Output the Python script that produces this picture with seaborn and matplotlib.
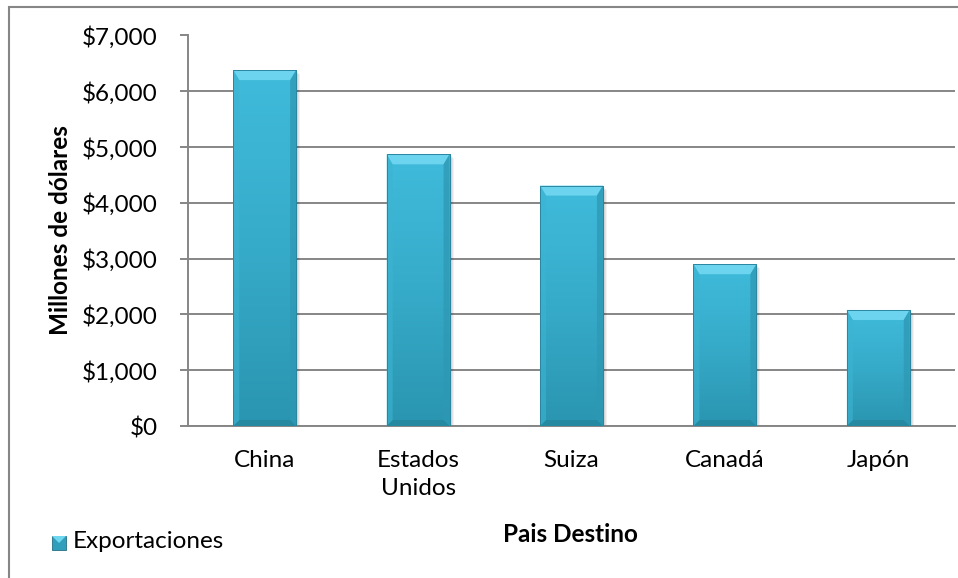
import numpy as np
import pandas as pd
import matplotlib
matplotlib.use("Agg")
import matplotlib.pyplot as plt
import seaborn as sns
from matplotlib.patches import Polygon, Rectangle
from matplotlib.ticker import FuncFormatter, MultipleLocator

# Export destinations and values (millions of dollars)
paises = ["China", "Estados\nUnidos", "Suiza", "Canadá", "Japón"]
exportaciones = [6380, 4870, 4310, 2900, 2080]
serie = "Exportaciones"

df = pd.DataFrame({"Pais": paises, "Valor": exportaciones})

sns.set_theme(style="white")
plt.rcParams["font.family"] = ["Lato", "DejaVu Sans"]

FS = 17.5
W, H = 958, 578
fig = plt.figure(figsize=(W / 100, H / 100), dpi=100)
ax = fig.add_axes([188 / W, 1 - 426 / H, (955 - 188) / W, (426 - 35.5) / H])

base = "#3dbad9"
sns.barplot(data=df, x="Pais", y="Valor", color=base, width=0.41,
            saturation=1, ax=ax, zorder=3, edgecolor="#2b8aa3", linewidth=0.6)

ax.set_ylim(0, 7000)
ax.set_xlim(-0.5, len(paises) - 0.5)
ax.yaxis.set_major_locator(MultipleLocator(1000))
ax.yaxis.set_major_formatter(FuncFormatter(lambda v, p: f"${v:,.0f}"))
ax.grid(axis="y", color="#868686", linewidth=1.4, zorder=0)
ax.set_axisbelow(True)

for s in ["top", "right"]:
    ax.spines[s].set_visible(False)
for s in ["left", "bottom"]:
    ax.spines[s].set_color("#868686")
    ax.spines[s].set_linewidth(1.4)

ax.tick_params(axis="y", which="major", length=6, width=1.4, color="#868686",
               left=True, labelsize=FS, labelcolor="black", pad=16)
ax.tick_params(axis="x", length=0, labelsize=FS, labelcolor="black", pad=17)
for lbl in ax.get_xticklabels():
    lbl.set_linespacing(1.45)
    lbl.set_verticalalignment("top")

ax.set_ylabel("")
ax.set_xlabel("")
fig.text(60 / W, 1 - 230 / H, "Millones de dólares", rotation=90, ha="center",
         va="center", fontsize=FS, fontweight="bold", color="black")
fig.text(570 / W, 1 - 534 / H, "Pais Destino", ha="center", va="center",
         fontsize=FS, fontweight="bold", color="black")

# Bevel and gradient on each bar, built from the drawn bar geometry
fig.canvas.draw()
to_disp = ax.transData
to_data = ax.transData.inverted()
grad = np.linspace(0, 1, 256).reshape(-1, 1)
cmap = matplotlib.colors.LinearSegmentedColormap.from_list(
    "bar", ["#2a95b0", "#36abc9", "#40bbdb"])
for p in ax.patches:
    x0, y0 = p.get_x(), p.get_y()
    x1, y1 = x0 + p.get_width(), y0 + p.get_height()
    (px0, py0), (px1, py1) = to_disp.transform([(x0, y0), (x1, y1)])
    # soft shadow
    for k, a in [(4, 0.05), (3, 0.06), (2, 0.07)]:
        (qx0, qy0), (qx1, qy1) = to_data.transform([(px0 + k, py0 - k), (px1 + k, py1 - k)])
        ax.add_patch(Rectangle((qx0, qy0), qx1 - qx0, qy1 - qy0, color="black",
                               alpha=a, lw=0, zorder=2.5))
    im = ax.imshow(grad, extent=(x0, x1, y0, y1), cmap=cmap, aspect="auto",
                   origin="lower", zorder=3.1)
    im.set_clip_path(p)
    b = 10
    s = 6
    outer = [(px0, py1), (px1, py1), (px1, py0), (px0, py0)]
    inner = [(px0 + s, py1 - b), (px1 - s, py1 - b), (px1 - s, py0 + s), (px0 + s, py0 + s)]
    faces = [
        ([outer[0], outer[1], inner[1], inner[0]], "#6cd4ee", 1.0),  # top
        ([outer[1], outer[2], inner[2], inner[1]], "#2e98b4", 0.75),  # right
        ([outer[2], outer[3], inner[3], inner[2]], "#26869f", 0.8),  # bottom
        ([outer[3], outer[0], inner[0], inner[3]], "#3cb4d2", 0.6),  # left
    ]
    for pts, c, a in faces:
        ax.add_patch(Polygon(to_data.transform(pts), closed=True, color=c,
                             alpha=a, lw=0, zorder=3.2))
    ax.add_patch(Rectangle((x0, y0), x1 - x0, y1 - y0, fill=False,
                           edgecolor="#2b86a0", lw=0.7, zorder=3.3))

ax.set_xlim(-0.5, len(paises) - 0.5)
ax.set_ylim(0, 7000)

# Legend entry: small bevelled square plus label
lx, ly, sz = 52 / W, 1 - 550 / H, 14
sq_w, sq_h = sz / W, sz / H
fig.patches.append(Rectangle((lx, ly), sq_w, sq_h, transform=fig.transFigure,
                             facecolor="#2f9fbb", edgecolor="#256f85", lw=0.6))
fig.patches.append(Polygon([(lx, ly + sq_h), (lx + sq_w, ly + sq_h),
                            (lx + sq_w / 2, ly + sq_h / 2)],
                           transform=fig.transFigure, color="#6fd8f0", lw=0))
fig.text(73 / W, 1 - 542 / H, serie, ha="left", va="center", fontsize=FS,
         color="black")

# Chart frame
fig.patches.append(Rectangle((8.5 / W, -0.1), 1.2, 1 - 6.5 / H + 0.1,
                             transform=fig.transFigure, fill=False,
                             edgecolor="#868686", lw=1.5))

fig.savefig("out.png", dpi=100, facecolor="white")
